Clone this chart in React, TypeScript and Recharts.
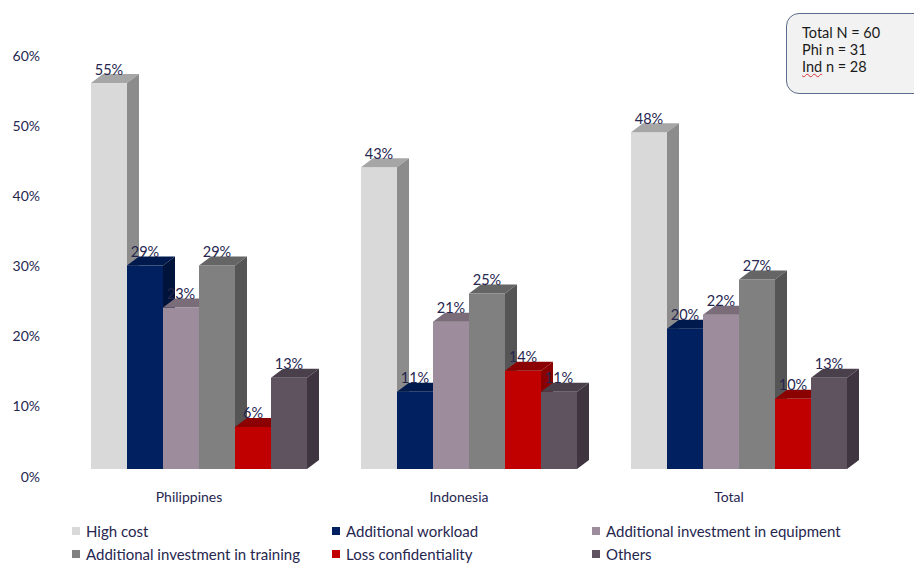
import { BarChart, Bar, XAxis, YAxis, LabelList } from "recharts";

const categories = ["Philippines", "Indonesia", "Total"];
const highCost = [55, 43, 48];
const workload = [29, 11, 20];
const equipment = [23, 21, 22];
const training = [29, 25, 27];
const confidentiality = [6, 14, 10];
const others = [13, 11, 13];
const yTicks = [0, 10, 20, 30, 40, 50, 60];
const sampleNotes = ["Total N = 60", "Phi n = 31", "Ind n = 28"];

const series = [
  { key: "highCost", name: "High cost", front: "#d9d9d9", top: "#a6a6a6", side: "#8c8c8c" },
  { key: "workload", name: "Additional workload", front: "#002060", top: "#001a4d", side: "#00133a" },
  { key: "equipment", name: "Additional investment in equipment", front: "#9d8d9c", top: "#7a6c79", side: "#6c5f6b" },
  { key: "training", name: "Additional investment in training", front: "#808080", top: "#656565", side: "#555555" },
  { key: "confidentiality", name: "Loss confidentiality", front: "#c00000", top: "#8b0000", side: "#8a0000" },
  { key: "others", name: "Others", front: "#5f5360", top: "#4a404b", side: "#3e3540" },
];

const data = categories.map((c, i) => ({
  category: c,
  highCost: highCost[i],
  workload: workload[i],
  equipment: equipment[i],
  training: training[i],
  confidentiality: confidentiality[i],
  others: others[i],
}));

const TEXT = "#26264f";
const FONT = "Lato, 'Open Sans', sans-serif";
const DX = 12;
const DY = 9;

function make3D(s: { front: string; top: string; side: string }) {
  return (props: any) => {
    const { x, y, width: w, height: h } = props;
    if (h == null || w == null) return null;
    return (
      <g>
        <rect x={x} y={y} width={w} height={h} fill={s.front} />
        <polygon
          points={`${x},${y} ${x + DX},${y - DY} ${x + w + DX},${y - DY} ${x + w},${y}`}
          fill={s.top}
        />
        <polygon
          points={`${x + w},${y} ${x + w + DX},${y - DY} ${x + w + DX},${y + h - DY} ${x + w},${y + h}`}
          fill={s.side}
        />
      </g>
    );
  };
}

function ValueLabel(props: any) {
  const { x, y, width, value } = props;
  return (
    <text
      x={x + width / 2}
      y={y - 14}
      textAnchor="middle"
      dominantBaseline="central"
      fill={TEXT}
      fontSize={14.5}
      fontFamily={FONT}
    >
      {`${value}%`}
    </text>
  );
}

function YTick(props: any) {
  const { y, payload } = props;
  return (
    <text x={40} y={y + 7} textAnchor="end" dominantBaseline="central" fill={TEXT} fontSize={14} fontFamily={FONT}>
      {`${payload.value}%`}
    </text>
  );
}

function XTick(props: any) {
  const { x, y, payload } = props;
  return (
    <text x={x - 10} y={y + 25} textAnchor="middle" dominantBaseline="central" fill={TEXT} fontSize={14} fontFamily={FONT}>
      {payload.value}
    </text>
  );
}

export default function App() {
  return (
    <div
      style={{
        position: "absolute",
        left: 0,
        top: 0,
        width: 914,
        height: 565,
        overflow: "hidden",
        background: "#ffffff",
        fontFamily: FONT,
      }}
    >
      <BarChart
        width={914}
        height={565}
        data={data}
        margin={{ top: 48, right: 40, left: 0, bottom: 66 }}
        barCategoryGap={27}
        barGap={0}
      >
        <XAxis
          dataKey="category"
          axisLine={false}
          tickLine={false}
          tickSize={0}
          height={30}
          tick={<XTick />}
        />
        <YAxis
          domain={[0, 60]}
          ticks={yTicks}
          axisLine={false}
          tickLine={false}
          width={64}
          tick={<YTick />}
        />
        {series.map((s) => (
          <Bar
            key={s.key}
            dataKey={s.key}
            name={s.name}
            fill={s.front}
            shape={make3D(s)}
            isAnimationActive={false}
          >
            <LabelList dataKey={s.key} content={<ValueLabel />} />
          </Bar>
        ))}
      </BarChart>

      <div
        style={{
          position: "absolute",
          left: 72,
          top: 521,
          display: "grid",
          gridTemplateColumns: "260px 260px 300px",
          rowGap: 3,
          fontSize: 15,
          color: TEXT,
          lineHeight: "20px",
        }}
      >
        {series.map((s) => (
          <div key={s.key} style={{ display: "flex", alignItems: "center", whiteSpace: "nowrap" }}>
            <span style={{ width: 8, height: 8, background: s.front, marginRight: 6, display: "inline-block" }} />
            {s.name}
          </div>
        ))}
      </div>

      <div
        style={{
          position: "absolute",
          left: 786,
          top: 13,
          width: 150,
          height: 81,
          border: "1.5px solid #5d6b8c",
          borderRadius: 13,
          background: "#f2f2f2",
          boxSizing: "border-box",
          padding: "10px 0 0 15px",
          fontSize: 14.5,
          lineHeight: "17px",
          color: "#1a1a1a",
        }}
      >
        {sampleNotes.map((t, i) => (
          <div key={i}>
            {i === 2 ? (
              <>
                <span style={{ textDecoration: "underline wavy #d93030", textDecorationThickness: 1 }}>Ind</span>
                {t.slice(3)}
              </>
            ) : (
              t
            )}
          </div>
        ))}
      </div>
    </div>
  );
}
